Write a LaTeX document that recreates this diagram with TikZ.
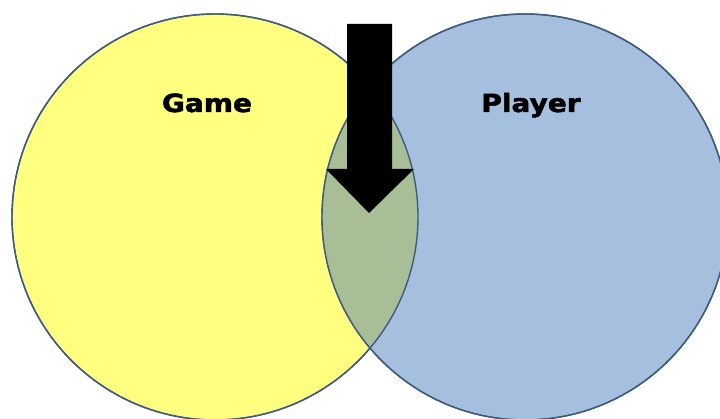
\documentclass[tikz,border=0pt]{standalone}
\usepackage{fontspec}
\newfontfamily\labelfont[FakeStretch=1.12,FakeBold=2]{DejaVu Sans}
\definecolor{gameyellow}{RGB}{255,255,128}
\definecolor{playerblue}{RGB}{167,191,222}
\definecolor{overlapgreen}{RGB}{168,190,150}
\definecolor{rimblue}{RGB}{62,92,128}

\begin{document}
\begin{tikzpicture}[
    x=1pt, y=1pt,
    every node/.style={font=\labelfont\bfseries\fontsize{25}{30}\selectfont},
    set/.style={circle, draw=rimblue, line width=1.4pt, minimum size=406pt, inner sep=0pt},
]
\useasboundingbox (0,0) rectangle (720,419);

% Left side (Game)
\node[set, fill=gameyellow] (game) at (215,202) {};
% Right side (Player)
\node[set, fill=playerblue] (player) at (525,202) {};
% Overlap
\begin{scope}
  \clip (game.center) circle (203);
  \fill[overlapgreen] (player.center) circle (203);
\end{scope}
\node[set] (gamerim) at (game) {};
\node[set] (playerrim) at (player) {};

% Labels
\node[anchor=base] (gamelabel) at (207,307) {Game};
\node[anchor=base] (playerlabel) at (531,307) {Player};

% Arrow into the overlap
\fill[black] (347,395) -- (392,395) -- (392,250) -- (414,250) -- (369,206)
  -- (326,250) -- (347,250) -- cycle;

\end{tikzpicture}
\end{document}
